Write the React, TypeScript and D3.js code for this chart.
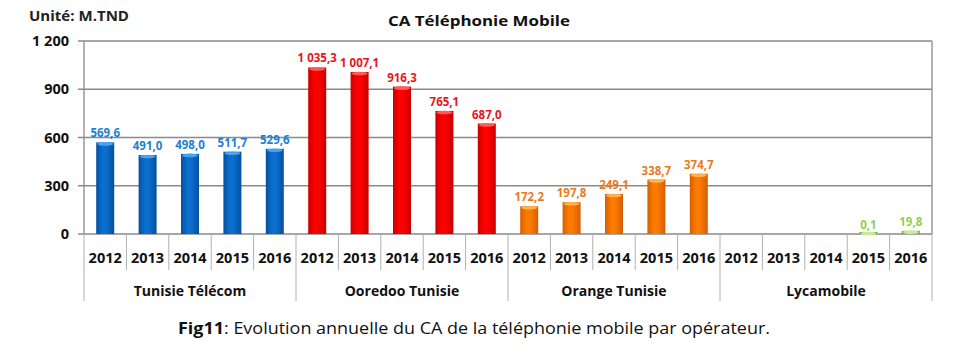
import React from "react";
import * as d3 from "d3";

const years = ["2012", "2013", "2014", "2015", "2016"];
const operators = ["Tunisie Télécom", "Ooredoo Tunisie", "Orange Tunisie", "Lycamobile"];
const tunisieTelecom = [569.6, 491.0, 498.0, 511.7, 529.6];
const ooredoo = [1035.3, 1007.1, 916.3, 765.1, 687.0];
const orange = [172.2, 197.8, 249.1, 338.7, 374.7];
const lycamobile: (number | null)[] = [null, null, null, 0.1, 19.8];
const yTicks = [0, 300, 600, 900, 1200];

const seriesValues = [tunisieTelecom, ooredoo, orange, lycamobile];
const barColors = [
  { base: "#0b6fcf", dark: "#05509e", light: "#4aa3f0", label: "#1d7fd2" },
  { base: "#ff0000", dark: "#c80000", light: "#ff5a5a", label: "#e8141c" },
  { base: "#ff7b00", dark: "#d45e00", light: "#ffb050", label: "#ea7a1c" },
  { base: "#92d050", dark: "#6ca830", light: "#c4ec90", label: "#92d050" },
];

const fmt = (v: number) => {
  const s = v.toFixed(1).replace(".", ",");
  const [i, d] = s.split(",");
  const ii = i.replace(/\B(?=(\d{3})+(?!\d))/g, " ");
  return ii + "," + d;
};
const fmtTick = (v: number) => String(v).replace(/\B(?=(\d{3})+(?!\d))/g, " ");

export default function App() {
  const W = 970, H = 357;
  const left = 84, right = 932, top = 41, bottom = 234;
  const font = "'Open Sans', sans-serif";

  const cats: string[] = [];
  operators.forEach((o, gi) => years.forEach((y) => cats.push(gi + "-" + y)));
  const x = d3.scaleBand().domain(cats).range([left, right]).paddingInner(0).paddingOuter(0);
  const y = d3.scaleLinear().domain([0, 1200]).range([bottom, top]);
  const bw = 18;

  return (
    <svg width={W} height={H} style={{ position: "absolute", left: 0, top: 0, background: "#fff" }}>
      <defs>
        {barColors.map((c, i) => (
          <linearGradient key={i} id={"g" + i} x1="0" x2="1" y1="0" y2="0">
            <stop offset="0" stopColor={c.dark} />
            <stop offset="0.35" stopColor={c.base} />
            <stop offset="0.55" stopColor={c.base} />
            <stop offset="1" stopColor={c.dark} />
          </linearGradient>
        ))}
      </defs>
      <text x={29} y={21} fontFamily={font} fontWeight="bold" fontSize={14} fill="#222" textLength={100} lengthAdjust="spacingAndGlyphs">Unité: M.TND</text>
      <text x={388} y={26} fontFamily={font} fontWeight="bold" fontSize={15} fill="#111" textLength={182} lengthAdjust="spacingAndGlyphs">CA Téléphonie  Mobile</text>

      {yTicks.map((t) => (
        <g key={t}>
          <line x1={78} x2={right} y1={y(t)} y2={y(t)} stroke="#8a8a8a" strokeWidth={1.3} />
          <text x={69} y={y(t) + 5} textAnchor="end" fontFamily={font} fontWeight="bold" fontSize={14.5} fill="#111">{fmtTick(t)}</text>
        </g>
      ))}
      <line x1={left} x2={left} y1={top} y2={bottom} stroke="#8a8a8a" strokeWidth={1.3} />
      <line x1={right} x2={right} y1={top} y2={bottom} stroke="#8a8a8a" strokeWidth={1.3} />

      {cats.map((c, i) => {
        const x0 = x(c)!;
        const isGroup = i % 5 === 0;
        return (
          <line key={"s" + c} x1={x0} x2={x0} y1={bottom} y2={isGroup ? 301 : 270} stroke="#b0b0b0" strokeWidth={1} />
        );
      })}
      <line x1={right} x2={right} y1={bottom} y2={301} stroke="#b0b0b0" strokeWidth={1} />

      {cats.map((c, i) => (
        <text key={"y" + c} x={x(c)! + x.bandwidth() / 2} y={263} textAnchor="middle" fontFamily={font} fontWeight="bold" fontSize={14.5} fill="#111">
          {years[i % 5]}
        </text>
      ))}
      {operators.map((o, gi) => {
        const x0 = x(gi + "-" + years[0])!;
        const x1 = x(gi + "-" + years[4])! + x.bandwidth();
        return (
          <text key={o} x={(x0 + x1) / 2} y={296} textAnchor="middle" fontFamily={font} fontWeight="bold" fontSize={14} fill="#111">{o}</text>
        );
      })}

      {seriesValues.map((vals, gi) =>
        vals.map((v, yi) => {
          if (v === null) return null;
          const c = gi + "-" + years[yi];
          const cx = x(c)! + x.bandwidth() / 2;
          const yTop = y(v);
          const h = Math.max(bottom - yTop, 2);
          const col = barColors[gi];
          return (
            <g key={"b" + c}>
              <rect x={cx - bw / 2} y={bottom - h} width={bw} height={h} fill={`url(#g${gi})`} />
              <ellipse cx={cx} cy={bottom - h + 1.5} rx={bw / 2 - 1} ry={1.8} fill={col.light} />
              <text x={cx} y={yTop - 5} textAnchor="middle" fontFamily={font} fontWeight="bold" fontSize={11.5} fill={col.label}>
                {fmt(v)}
              </text>
            </g>
          );
        })
      )}

      <text x={178} y={334} fontFamily={font} fontSize={16} fill="#111" textLength={592} lengthAdjust="spacingAndGlyphs">
        <tspan fontWeight="bold">Fig11</tspan>: Evolution annuelle du CA de la téléphonie mobile par opérateur.
      </text>
    </svg>
  );
}
